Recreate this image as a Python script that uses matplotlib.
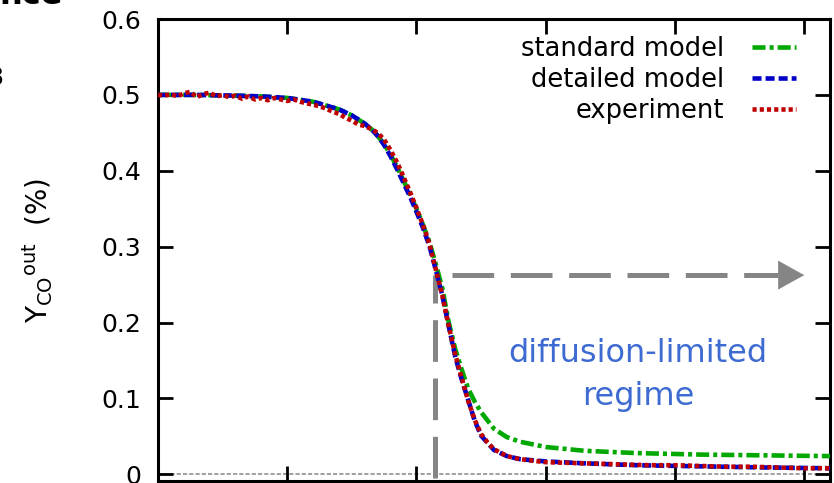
#%%
import numpy as np
import matplotlib.pyplot as plt

plt.rcParams['font.family'] = 'DejaVu Sans'
plt.rcParams['mathtext.fontset'] = 'dejavusans'
plt.rcParams['lines.scale_dashes'] = False

#%%
T_model = [300, 330, 360, 380, 400, 420, 430, 440, 450, 460, 465, 470, 475, 480, 485,
           490, 495, 500, 505, 510, 515, 520, 525, 530, 535, 540, 545, 550, 560, 570,
           580, 600, 630, 670, 720, 770, 820]
y_standard = [0.500, 0.500, 0.499, 0.498, 0.496, 0.491, 0.486, 0.481, 0.473, 0.462,
              0.455, 0.446, 0.435, 0.421, 0.405, 0.387, 0.369, 0.350, 0.329, 0.306,
              0.277, 0.245, 0.200, 0.165, 0.138, 0.113, 0.096, 0.082, 0.060, 0.049,
              0.043, 0.036, 0.031, 0.028, 0.026, 0.025, 0.024]
y_detailed = [0.500, 0.500, 0.499, 0.498, 0.496, 0.491, 0.486, 0.481, 0.473, 0.462,
              0.455, 0.446, 0.434, 0.419, 0.402, 0.384, 0.366, 0.346, 0.325, 0.301,
              0.269, 0.236, 0.195, 0.155, 0.125, 0.098, 0.071, 0.051, 0.032, 0.024,
              0.020, 0.017, 0.0145, 0.012, 0.0105, 0.009, 0.008]

T_exp = list(range(300, 565, 5)) + [570, 580, 590, 600] + list(range(620, 840, 20))
y_exp = [0.500, 0.499, 0.501, 0.498, 0.502, 0.504, 0.497, 0.501, 0.503, 0.498,
         0.500, 0.497, 0.499, 0.495, 0.498, 0.494, 0.496, 0.493, 0.496, 0.494,
         0.492, 0.494, 0.491, 0.489, 0.487, 0.485, 0.482, 0.478, 0.475, 0.470,
         0.466, 0.461, 0.459, 0.455, 0.450, 0.441, 0.427, 0.411, 0.392, 0.372,
         0.351, 0.329, 0.304, 0.270, 0.236, 0.195, 0.158, 0.127, 0.097, 0.072,
         0.053, 0.042, 0.033,
         0.024, 0.020, 0.018, 0.016,
         0.015, 0.014, 0.013, 0.012, 0.012, 0.011, 0.010, 0.010, 0.009, 0.008, 0.008]

labels = ['standard model', 'detailed model', 'experiment']
yticks = [0, 0.1, 0.2, 0.3, 0.4, 0.5, 0.6]
ytick_labels = ['0', '0.1', '0.2', '0.3', '0.4', '0.5', '0.6']
xticks = [300, 400, 500, 600, 700, 800]

T_onset = 514.3
y_arrow = 0.2625
T_arrow_start = 527.5
T_arrow_end = 800
regime_text = ['diffusion-limited', 'regime']

#%%
fig = plt.figure(figsize=(8.34, 4.83), dpi=100)
ax = fig.add_axes([0.18945, 0.00414, 0.80576, 0.9565])

ax.axhline(0, color='#999999', lw=1.3, ls=(0, (3, 1.5)), zorder=1)

ax.plot(T_model, y_standard, color='#00a800', lw=3.3, dashes=(9.4, 2.9, 2.9, 2.9),
        label=labels[0], zorder=3)
ax.plot(T_model, y_detailed, color='#0000c8', lw=3.3, dashes=(6.5, 2.9),
        label=labels[1], zorder=4)
ax.plot(T_exp, y_exp, color='#c00000', lw=3.3, dashes=(3.0, 2.2),
        label=labels[2], zorder=5)

# onset marker and arrow
gray = '#858585'
ax.plot([T_onset, T_onset], [-0.005, y_arrow], color=gray, lw=3.6,
        dashes=(30, 12), zorder=2)
ax.plot([T_arrow_start, T_arrow_end - 20], [y_arrow, y_arrow], color=gray, lw=3.6,
        dashes=(30, 12), zorder=2)
ax.annotate('', xy=(T_arrow_end, y_arrow), xytext=(T_arrow_end - 20, y_arrow),
            arrowprops=dict(arrowstyle='-|>,head_length=0.9,head_width=0.5',
                            mutation_scale=20, color=gray, lw=0.5,
                            shrinkA=0, shrinkB=0), zorder=2)

ax.text(671.4, 0.1478, regime_text[0], color='#3d6bd1', fontsize=23,
        ha='center', va='baseline')
ax.text(671.4, 0.091, regime_text[1], color='#3d6bd1', fontsize=23,
        ha='center', va='baseline')

ax.set_xlim(300, 820)
ax.set_ylim(-0.0088, 0.6)
ax.set_xticks(xticks)
ax.set_yticks(yticks)
ax.set_yticklabels(ytick_labels)
ax.tick_params(direction='in', length=11, width=2, labelsize=18, pad=12,
               top=True, right=True, labelbottom=False)
for s in ax.spines.values():
    s.set_linewidth(2.2)

ax.set_ylabel(r'$\mathregular{Y_{CO}{}^{out}}$  (%)', fontsize=20)
ax.yaxis.set_label_coords(-0.155, 0.5)

ax.legend(loc='upper right', bbox_to_anchor=(0.949, 0.963), frameon=False,
          markerfirst=False, fontsize=18.5, handlelength=1.7, handletextpad=1.1,
          labelspacing=0.2, borderaxespad=0, borderpad=0)

# bits of the neighbouring slide content
fig.text(63 / 834, 1 - 4 / 483, 'nce', fontsize=23, fontweight='bold',
         ha='right', va='baseline')
fig.text(3 / 834, 1 - 78 / 483, '8', fontsize=18, ha='right', va='center')

plt.savefig('out.png', dpi=100)
